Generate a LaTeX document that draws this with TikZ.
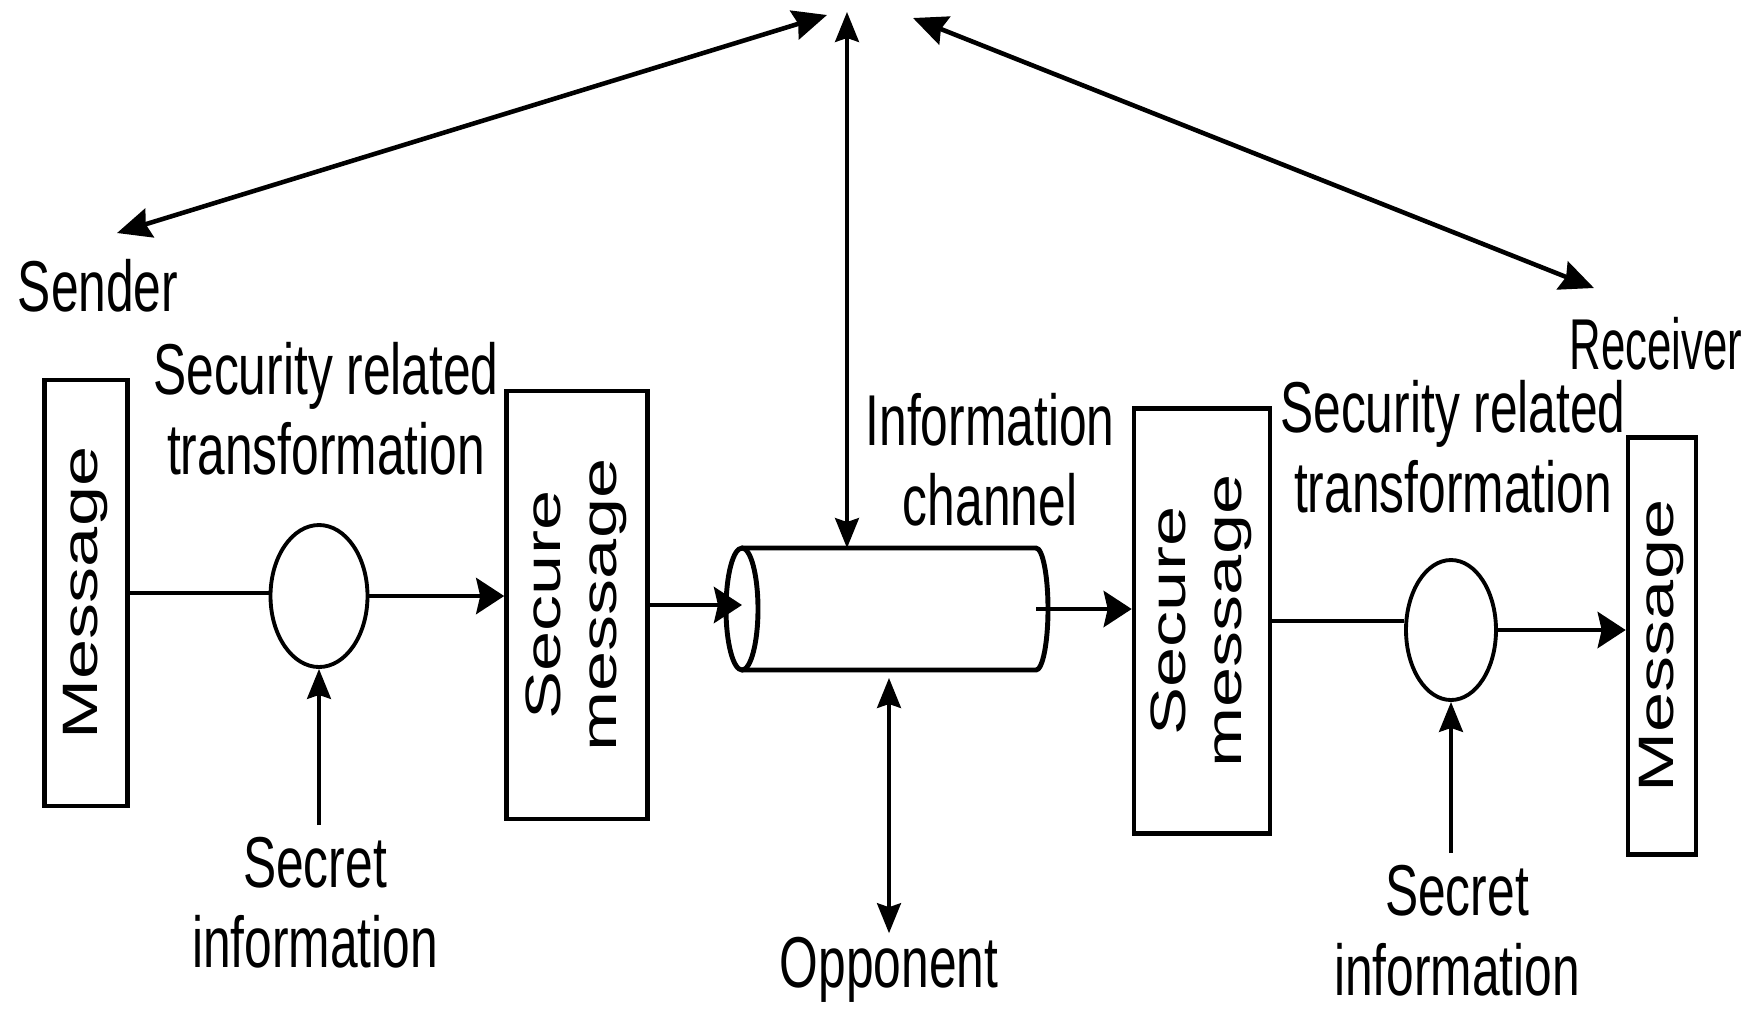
\documentclass[tikz,border=0pt]{standalone}
\usepackage{fontspec}
\setmainfont{Liberation Sans}[FakeStretch=0.69]
\newfontfamily\boxfont{Liberation Sans}[FakeStretch=1.45]
\usetikzlibrary{arrows.meta}
\usetikzlibrary{shapes.geometric}

\tikzset{
  lbl/.style={font=\fontsize{20.5}{22.8}\selectfont, align=center},
  msgbox/.style={draw, line width=1.3pt, inner sep=0pt, font=\boxfont\fontsize{14.15}{16}\selectfont},
  xform/.style={draw, ellipse, line width=1.1pt, inner sep=0pt},
  flow/.style={line width=1.4pt},
  harr/.style={flow, arrows={-Stealth[length=0.28cm, width=0.36cm, inset=0.04cm]}},
  varr/.style={line width=0.9pt, arrows={-Stealth[length=0.3cm, width=0.24cm, inset=0.04cm]}},
  vboth/.style={line width=0.9pt, arrows={Stealth[length=0.3cm, width=0.24cm, inset=0.04cm]-Stealth[length=0.3cm, width=0.24cm, inset=0.04cm]}},
  dboth/.style={line width=1.3pt, arrows={Stealth[length=0.34cm, width=0.3cm, inset=0.04cm]-Stealth[length=0.34cm, width=0.3cm, inset=0.04cm]}}
}

\begin{document}
\begin{tikzpicture}
  \useasboundingbox (0, 0) rectangle (17.58, -10.09);

  \node [msgbox, minimum width=0.83cm, minimum height=4.26cm] (msgl) at (0.86, -5.93) {\rotatebox{90}{Message}};
  \node [xform, minimum width=0.97cm, minimum height=1.42cm] (xfl) at (3.19, -5.96) {};
  \node [msgbox, minimum width=1.41cm, minimum height=4.28cm] (secl) at (5.77, -6.05) {\rotatebox{90}{\begin{tabular}{@{}c@{}}Secure\\message\end{tabular}}};

  \node [inner sep=0pt, outer sep=0pt, minimum width=2.94cm, minimum height=1.22cm] (chan) at (8.89, -6.09) {};
  \draw [flow] (chan.west) ellipse [x radius=0.16, y radius=0.61];
  \draw [flow] (chan.north west) -- (chan.north east) arc [start angle=90, end angle=-90, x radius=0.12, y radius=0.61] -- (chan.south west);

  \node [msgbox, minimum width=1.36cm, minimum height=4.25cm] (secr) at (12.02, -6.21) {\rotatebox{90}{\begin{tabular}{@{}c@{}}Secure\\message\end{tabular}}};
  \node [xform, minimum width=0.9cm, minimum height=1.4cm] (xfr) at (14.51, -6.30) {};
  \node [msgbox, minimum width=0.68cm, minimum height=4.17cm] (msgr) at (16.62, -6.46) {\rotatebox{90}{Message}};

  \node [lbl] (snd) at (0.98, -2.86) {Sender};
  \node [lbl] (rcv) at (16.56, -3.44) {\scalebox{0.88}[1]{Receiver}};
  \node [lbl] (srtl) at (3.26, -4.09) {Security related\\transformation};
  \node [lbl] (srtr) at (14.53, -4.47) {Security related\\transformation};
  \node [lbl] (chlbl) at (9.90, -4.60) {Information\\channel};
  \node [lbl] (sinfl) at (3.15, -9.03) {Secret\\information};
  \node [lbl] (sinfr) at (14.57, -9.31) {Secret\\information};
  \node [lbl, inner sep=1pt] (opp) at (8.89, -9.70) {Opponent};

  \coordinate (tl) at (8.27, -0.15);
  \coordinate (ttp) at (8.47, -0.12);
  \coordinate (tr) at (9.13, -0.18);
  \coordinate (sndpt) at (1.17, -2.33);
  \coordinate (rcvpt) at (15.94, -2.88);

  \draw [flow] (msgl.east) -- (msgl.east -| xfl.west);
  \draw [harr] (xfl.east) -- (xfl.east -| secl.west);
  \draw [harr] (secl.east) -- (secl.east -| chan.west);
  \draw [harr] (chan.east) -- (chan.east -| secr.west);
  \draw [flow] (secr.east) -- (secr.east -| xfr.west);
  \draw [harr] (xfr.east) -- (xfr.east -| msgr.west);

  \draw [varr] (sinfl.north -| xfl.south) -- (xfl.south);
  \draw [varr] (sinfr.north -| xfr.south) -- (xfr.south);

  \draw [vboth] (ttp) -- (ttp |- chan.north);
  \draw [vboth, shorten <=0.08cm] (chan.south) -- (opp.north);

  \draw [dboth] (tl) -- (sndpt);
  \draw [dboth] (tr) -- (rcvpt);

\end{tikzpicture}
\end{document}
